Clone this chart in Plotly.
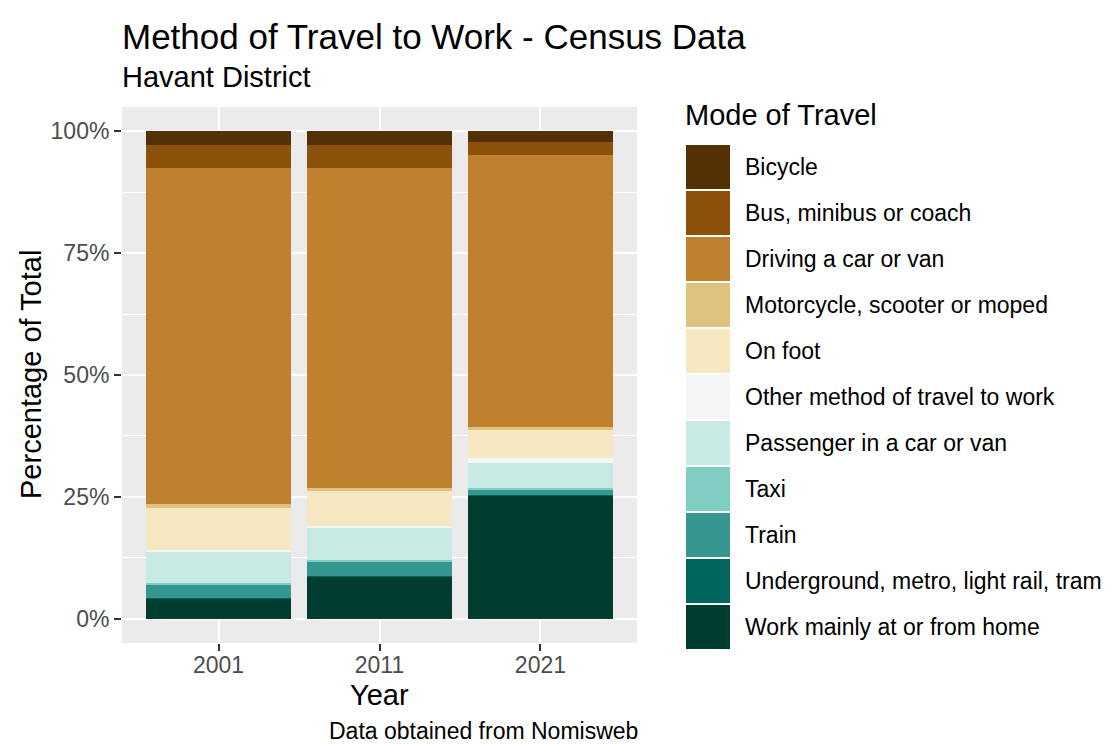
import plotly.graph_objects as go

# ---------------- data ----------------
years = ["2001", "2011", "2021"]

modes = [
    "Bicycle",
    "Bus, minibus or coach",
    "Driving a car or van",
    "Motorcycle, scooter or moped",
    "On foot",
    "Other method of travel to work",
    "Passenger in a car or van",
    "Taxi",
    "Train",
    "Underground, metro, light rail, tram",
    "Work mainly at or from home",
]

bicycle = [2.7, 2.7, 2.1]
bus = [4.8, 4.8, 2.7]
driving = [69.0, 65.6, 55.9]
motorcycle = [0.7, 0.7, 0.6]
on_foot = [8.7, 7.2, 5.8]
other = [0.4, 0.5, 1.0]
passenger = [6.3, 6.4, 5.1]
taxi = [0.3, 0.4, 0.5]
train = [2.8, 3.0, 1.0]
underground = [0.1, 0.1, 0.1]
home = [4.2, 8.6, 25.2]

series = [bicycle, bus, driving, motorcycle, on_foot, other,
          passenger, taxi, train, underground, home]

colors = ["#543005", "#8C510A", "#BF812D", "#DFC27D", "#F6E8C3", "#F5F5F5",
          "#C7EAE5", "#80CDC1", "#35978F", "#01665E", "#003C30"]

y_ticks = [0, 25, 50, 75, 100]
y_tick_labels = ["0%", "25%", "50%", "75%", "100%"]

# ---------------- layout constants ----------------
OFF = 8                      # page body margin in the browser
W, H = 1113 - OFF, 744 - OFF  # figure size
# plot area in screen pixels
SL, SR, ST, SB = 122, 637, 107, 643
L, R, T, B = SL - OFF, SR - OFF, ST - OFF, SB - OFF
FONT = "Liberation Sans, Arial, Helvetica, sans-serif"


def px_x(X):
    """screen x pixel -> paper x"""
    return (X - OFF - L) / (R - L)


def px_y(Y):
    """screen y pixel -> paper y"""
    return (B - (Y - OFF)) / (B - T)


fig = go.Figure()

# stacked bars: bottom of the stack is the last legend entry
for name, vals, col in reversed(list(zip(modes, series, colors))):
    fig.add_trace(go.Bar(
        x=years, y=vals, name=name,
        marker=dict(color=col, line=dict(width=0)),
        showlegend=False,
    ))

fig.update_layout(
    width=W, height=H,
    margin=dict(l=L, r=W - R, t=T, b=H - B, autoexpand=False),
    barmode="stack",
    bargap=0.1,
    plot_bgcolor="#EBEBEB",
    paper_bgcolor="white",
    font=dict(family=FONT, color="black"),
    xaxis=dict(
        type="category", range=[-0.6, 2.6],
        showgrid=True, gridcolor="white", gridwidth=2.2,
        zeroline=False, showline=False,
        ticks="outside", ticklen=7, tickwidth=1.5, tickcolor="#333333",
        tickfont=dict(size=23, color="#4D4D4D", family=FONT),
        ticklabelstandoff=-6,
    ),
    yaxis=dict(
        range=[-5, 105],
        tickvals=y_ticks, ticktext=y_tick_labels,
        showgrid=True, gridcolor="white", gridwidth=2.2,
        minor=dict(tickvals=[12.5, 37.5, 62.5, 87.5], showgrid=True,
                   gridcolor="white", gridwidth=1.1, ticks=""),
        zeroline=False, showline=False,
        ticks="outside", ticklen=7, tickwidth=1.5, tickcolor="#333333",
        tickfont=dict(size=23, color="#4D4D4D", family=FONT),
        ticklabelstandoff=0,
    ),
)

annotations = [
    dict(text="Method of Travel to Work - Census Data", x=px_x(120), y=px_y(36),
         xanchor="left", yanchor="middle", font=dict(size=35, color="black")),
    dict(text="Havant District", x=px_x(120), y=px_y(77),
         xanchor="left", yanchor="middle", font=dict(size=29, color="black")),
    dict(text="Year", x=0.5, y=px_y(695),
         xanchor="center", yanchor="middle", font=dict(size=29, color="black")),
    dict(text="Percentage of Total", x=px_x(31), y=px_y(375), textangle=-90,
         xanchor="center", yanchor="middle", font=dict(size=29, color="black")),
    dict(text="Data obtained from Nomisweb", x=px_x(640), y=px_y(731),
         xanchor="right", yanchor="middle", font=dict(size=23, color="black")),
    dict(text="Mode of Travel", x=px_x(683), y=px_y(115),
         xanchor="left", yanchor="middle", font=dict(size=29, color="black")),
]

shapes = []
key_left, key_size, key_top = 685, 46.0, 144.0
for i, (name, col) in enumerate(zip(modes, colors)):
    top = key_top + i * key_size
    shapes.append(dict(
        type="rect", xref="paper", yref="paper",
        x0=px_x(key_left + 1), x1=px_x(key_left + 45),
        y0=px_y(top + key_size - 1), y1=px_y(top + 1),
        fillcolor=col, line=dict(width=0), layer="above",
    ))
    annotations.append(dict(
        text=name, x=px_x(743), y=px_y(top + key_size / 2),
        xanchor="left", yanchor="middle",
        font=dict(size=23, color="black"),
    ))

for a in annotations:
    a.update(xref="paper", yref="paper", showarrow=False)

fig.update_layout(annotations=annotations, shapes=shapes)

fig.write_html("out.html")
